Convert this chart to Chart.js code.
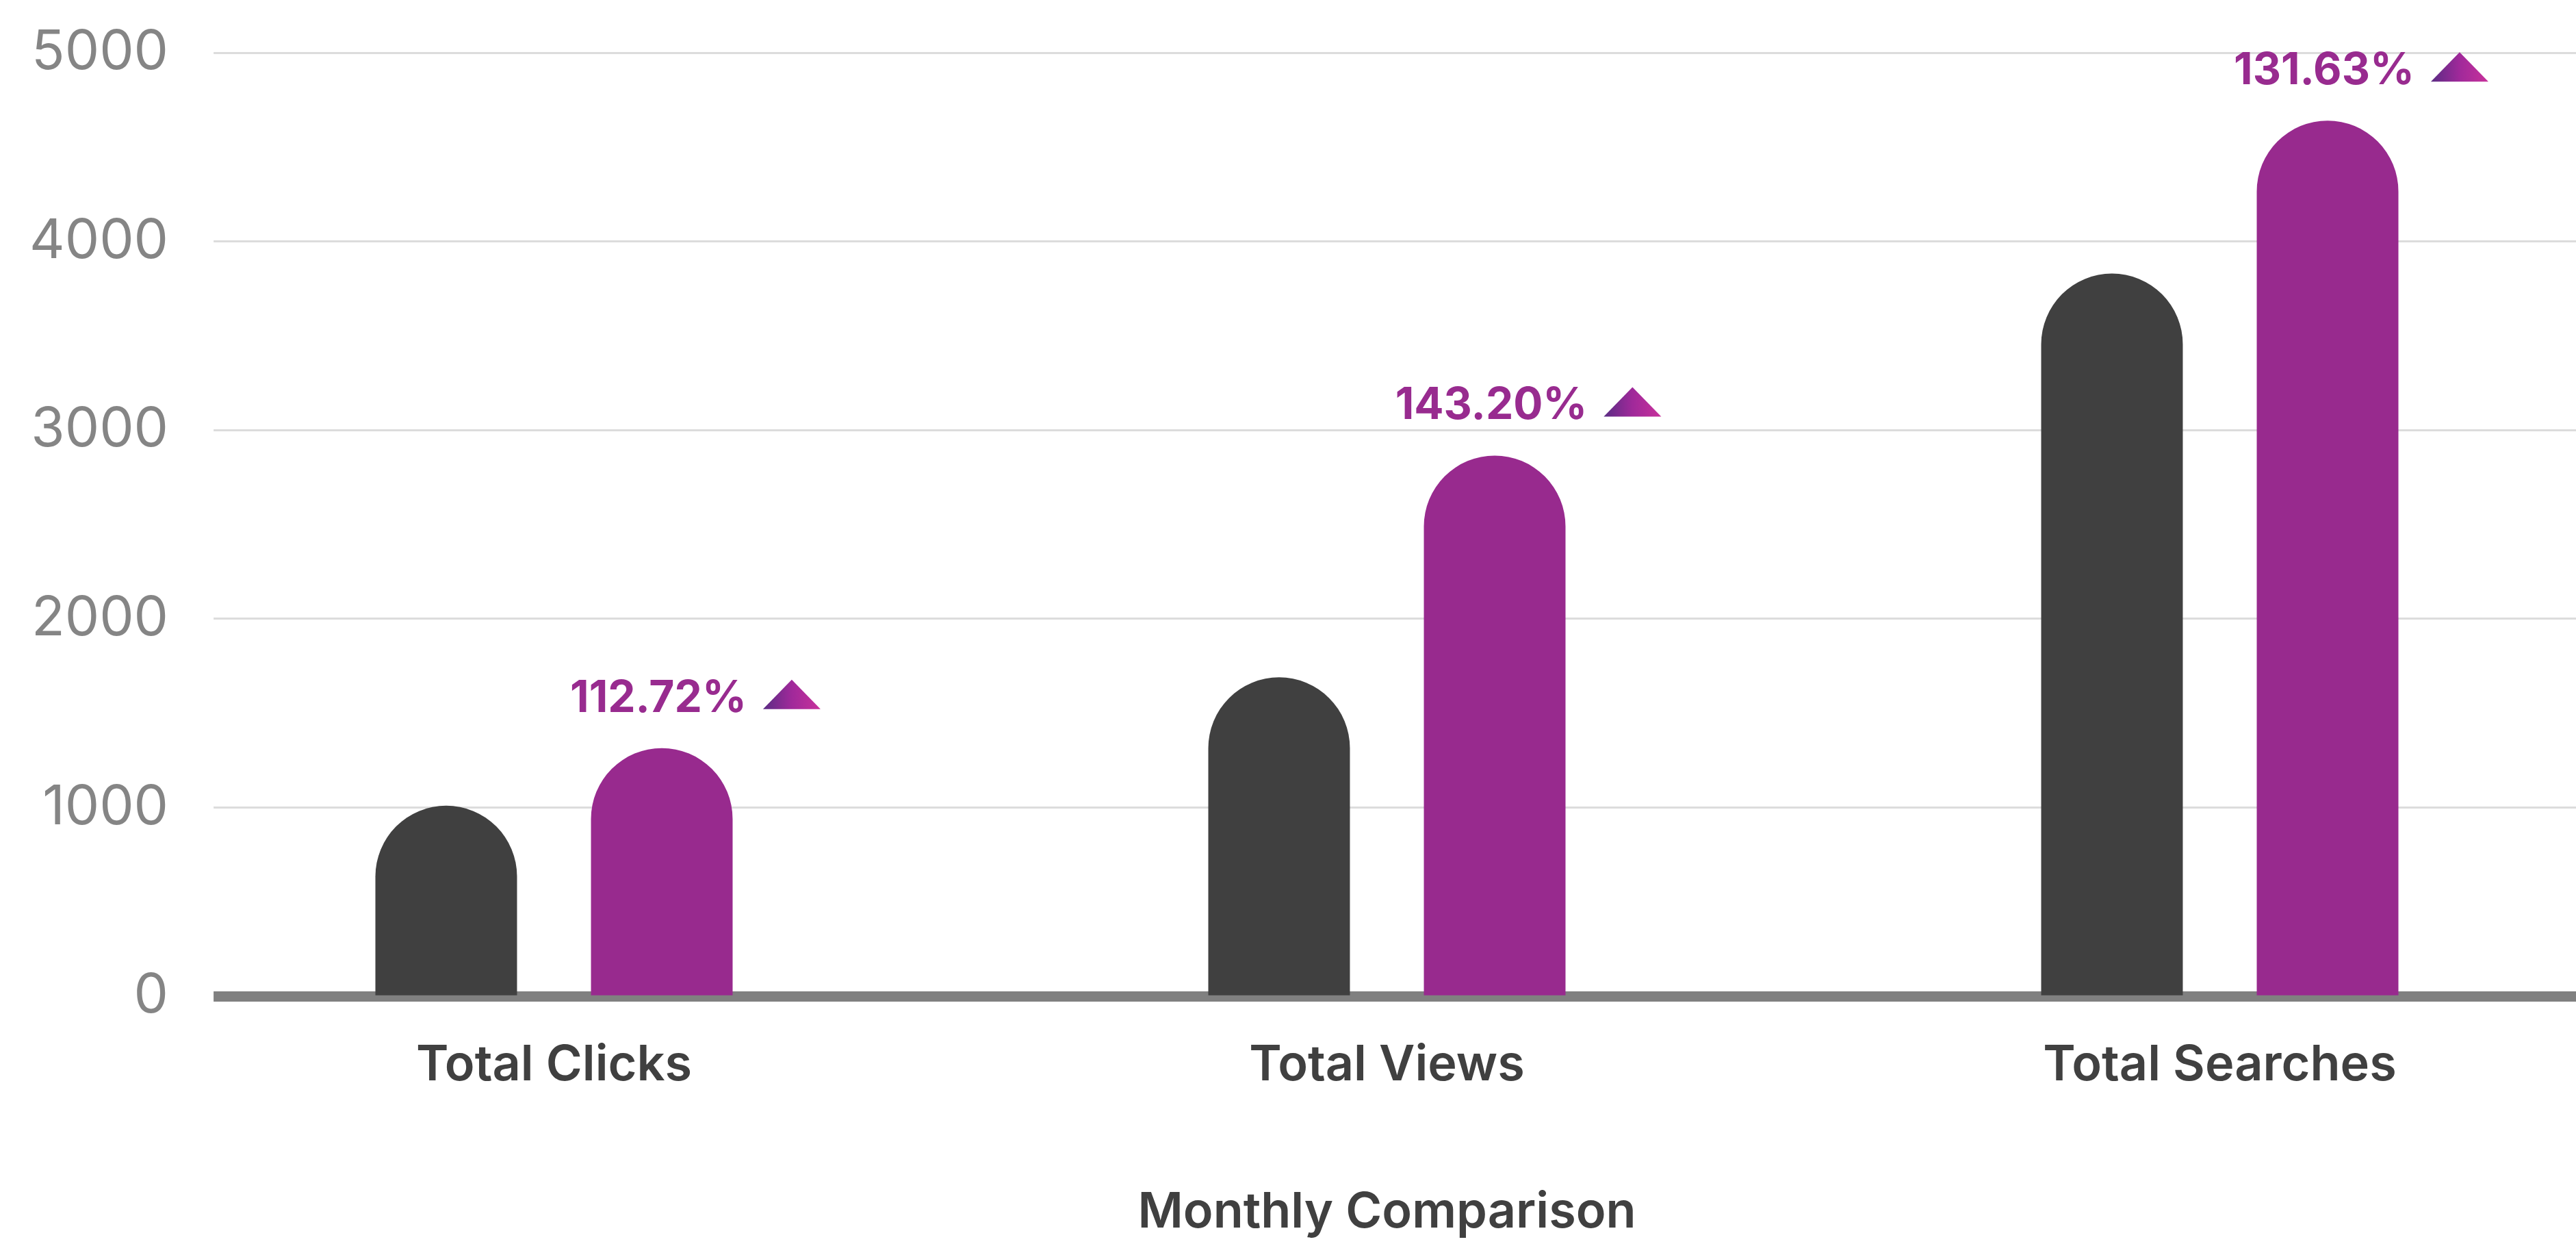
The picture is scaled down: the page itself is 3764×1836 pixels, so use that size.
<!DOCTYPE html>
<html>
<head>
<meta charset="utf-8">
<style>
  html, body { margin: 0; padding: 0; background: #ffffff; overflow: hidden; }
  #wrap { position: relative; width: 3852px; height: 1836px; }
</style>
<script src="https://cdn.jsdelivr.net/npm/chart.js@4.4.1/dist/chart.umd.min.js"></script>
</head>
<body>
<div id="wrap"><canvas id="chart"></canvas></div>
<script>
// ---- data ----
const categories = ['Total Clicks', 'Total Views', 'Total Searches'];
const previousMonth = [1010, 1690, 3830];
const currentMonth = [1315, 2865, 4640];
const changeLabels = ['112.72%', '143.20%', '131.63%'];
const yTicks = [0, 1000, 2000, 3000, 4000, 5000];
const axisTitle = 'Monthly Comparison';

const FONT = 'Inter, "Open Sans", "DejaVu Sans", sans-serif';

const changeLabelPlugin = {
  id: 'changeLabels',
  afterDatasetsDraw(chart) {
    const meta = chart.getDatasetMeta(1);
    const ctx = chart.ctx;
    ctx.save();
    ctx.font = '700 64px ' + FONT;
    ctx.textAlign = 'center';
    ctx.textBaseline = 'alphabetic';
    meta.data.forEach((bar, i) => {
      const text = changeLabels[i];
      const cx = bar.x - 5;
      const baseline = bar.y - 53;
      ctx.fillStyle = '#982b8f';
      ctx.fillText(text, cx, baseline);
      const tw = ctx.measureText(text).width;
      const tx = cx + tw / 2 + 24;
      const triW = 84, triH = 43;
      const bottom = baseline - 4;
      const g = ctx.createLinearGradient(tx, 0, tx + triW, 0);
      g.addColorStop(0, '#5a2c84');
      g.addColorStop(0.5, '#a0299a');
      g.addColorStop(1, '#c8319b');
      ctx.beginPath();
      ctx.moveTo(tx, bottom);
      ctx.lineTo(tx + triW / 2, bottom - triH);
      ctx.lineTo(tx + triW, bottom);
      ctx.closePath();
      ctx.fillStyle = g;
      ctx.fill();
    });
    ctx.restore();
  }
};

new Chart(document.getElementById('chart'), {
  type: 'bar',
  data: {
    labels: categories,
    datasets: [
      {
        label: 'Previous Month',
        data: previousMonth,
        backgroundColor: '#404040',
        borderWidth: 0,
        borderRadius: 999,
        borderSkipped: 'start',
        categoryPercentage: 0.5177,
        barPercentage: 0.657
      },
      {
        label: 'Current Month',
        data: currentMonth,
        backgroundColor: '#982a8e',
        borderWidth: 0,
        borderRadius: 999,
        borderSkipped: 'start',
        categoryPercentage: 0.5177,
        barPercentage: 0.657
      }
    ]
  },
  options: {
    responsive: true,
    maintainAspectRatio: false,
    devicePixelRatio: 1,
    animation: false,
    layout: { padding: { top: 77, left: 30, right: 0, bottom: 0 } },
    plugins: {
      legend: { display: false },
      tooltip: { enabled: false }
    },
    scales: {
      x: {
        type: 'category',
        offset: true,
        grid: { display: false, drawTicks: false },
        border: { display: true, color: '#808080', width: 15 },
        ticks: {
          color: '#404040',
          font: { family: FONT, size: 72, weight: '600' },
          padding: 58,
          maxRotation: 0,
          autoSkip: false
        },
        title: {
          display: true,
          text: axisTitle,
          color: '#404040',
          font: { family: FONT, size: 72, weight: '600' },
          padding: { top: 71, bottom: 21 }
        }
      },
      y: {
        min: 0,
        max: 5000,
        afterFit(scale) { scale.width = 171; },
        afterBuildTicks(scale) { scale.ticks = yTicks.map(v => ({ value: v })); },
        grid: { color: '#dcdcdc', lineWidth: 3, drawTicks: false },
        border: { display: false },
        ticks: {
          z: 1,
          mirror: true,
          crossAlign: 'far',
          color: '#858585',
          font: { family: FONT, size: 80, weight: '400' },
          padding: -158,
          showLabelBackdrop: true,
          backdropColor: '#ffffff',
          backdropPadding: { left: 40, right: 66, top: 0, bottom: 0 },
          callback: (v) => String(v)
        }
      }
    }
  },
  plugins: [changeLabelPlugin]
});
</script>
</body>
</html>
